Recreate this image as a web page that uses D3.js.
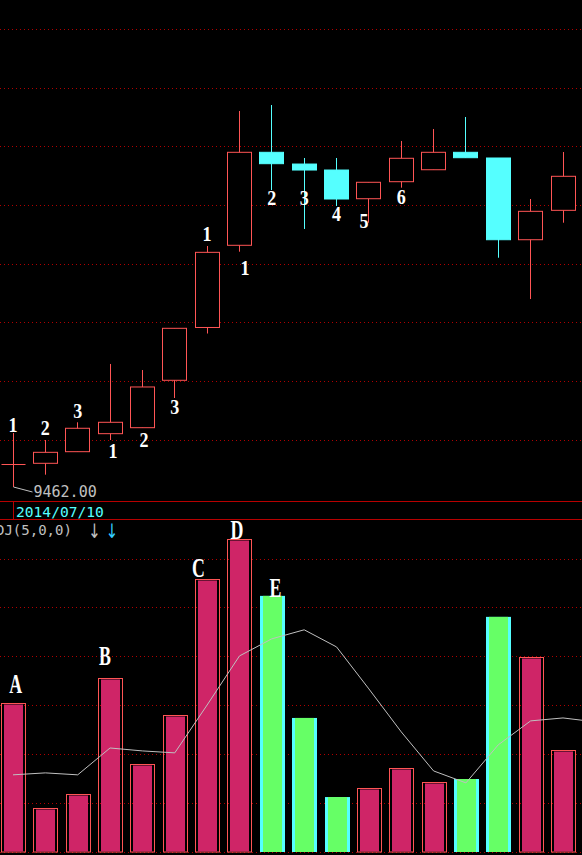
<!DOCTYPE html>
<meta charset="utf-8">
<style>
body { margin: 0; background: #000; }
svg { display: block; background: #000; }
.grid line { stroke: #b00000; stroke-width: 1; stroke-dasharray: 1,3; }
.sep { stroke: #b80000; stroke-width: 1; }
.num { font-family: "Liberation Serif", serif; font-weight: bold; fill: #fff; }
.mono { font-family: "DejaVu Sans Mono", monospace; }
.arrow { font-family: "DejaVu Sans", sans-serif; }
</style>
<svg width="582" height="855"></svg>
<script src="https://d3js.org/d3.v7.min.js"></script>
<script>

// candles
var opens  = [9501.2, 9502.4, 9522.2, 9552.9, 9563.1, 9643.9, 9733.9, 9874.0, 10032.5, 10012.5, 10002.3, 9953.4, 9982.4, 10002.8, 10032.5, 10022.8, 9883.5, 9933.6];
var highs  = [9554.0, 9542.1, 9572.3, 9671.7, 9661.4, 9732.5, 9872.8, 10102.9, 10113.1, 10022.8, 10022.8, 9981.4, 10051.8, 10072.2, 10092.7, 10022.8, 9952.9, 10033.0];
var lows   = [9462.0, 9483.0, 9522.2, 9542.1, 9563.1, 9613.7, 9723.6, 9863.1, 9968.2, 9901.8, 9941.0, 9912.5, 9972.2, 10002.8, 10023.3, 9852.8, 9782.4, 9912.5];
var closes = [9501.2, 9521.1, 9562.1, 9572.3, 9632.5, 9732.5, 9862.0, 10032.5, 10013.1, 10002.3, 9952.9, 9981.4, 10022.3, 10032.5, 10023.3, 9883.5, 9931.9, 9991.6];

// lower indicator: bars and line (last line point lies past the right edge)
var oscBars = [60.7, 18.0, 23.4, 70.9, 35.7, 55.7, 111.5, 127.9, 104.9, 54.9, 22.5, 26.2, 34.0, 28.3, 29.9, 96.3, 79.5, 41.4];
var oscLine = [31.6, 32.4, 31.6, 42.6, 41.4, 40.6, 60.2, 80.3, 87.3, 91.0, 84.0, 66.8, 49.2, 33.2, 28.3, 43.9, 53.7, 54.9, 53.3];

var gridPrices = [9542, 9642, 9742, 9842, 9942, 10042, 10142, 10242];
var oscGrid = [0, 20, 40, 60, 80, 100, 120];

// hand-drawn wave counts: candle index, text, price at label centre
var waveLabels = [
  {i: 0, t: "1", p: 9567.7}, {i: 1, t: "2", p: 9562.6}, {i: 2, t: "3", p: 9593.2},
  {i: 3.09, t: "1", p: 9524.2}, {i: 4.05, t: "2", p: 9543.0}, {i: 5, t: "3", p: 9599.2},
  {i: 6, t: "1", p: 9894.9}, {i: 7.17, t: "1", p: 9836.1}, {i: 8, t: "2", p: 9955.5},
  {i: 9, t: "3", p: 9956.3}, {i: 10, t: "4", p: 9929.0}, {i: 10.85, t: "5", p: 9917.1},
  {i: 12, t: "6", p: 9957.2}
];
var letterLabels = [
  {i: 0.08, t: "A", v: 68.9}, {i: 2.84, t: "B", v: 80.3}, {i: 5.73, t: "C", v: 116.2},
  {i: 6.92, t: "D", v: 132.0}, {i: 8.11, t: "E", v: 108.2}
];
var lowText = "9462.00";
var dateText = "2014/07/10";
var indText = "DJ(5,0,0)";

var RED = "#ff5555", CYAN = "#55ffff", MAG = "#cf2567", GREEN = "#66ff66", GRAY = "#c0c0c0";

var svg = d3.select("svg");
var x = d3.scaleLinear().domain([0, 17]).range([13, 563]);
var y = d3.scaleLinear().domain([9462, 10242]).range([487, 29.4]);
var yo = d3.scaleLinear().domain([0, 120]).range([852, 559]);

var px = function(v) { return Math.floor(v) + 0.5; };
var candles = d3.range(opens.length).map(function(i) {
  return {i: i, o: opens[i], h: highs[i], l: lows[i], c: closes[i], up: closes[i] >= opens[i]};
});

// grids
svg.append("g").attr("class", "grid").selectAll("line")
  .data(gridPrices).enter().append("line")
    .attr("x1", 0).attr("x2", 582)
    .attr("y1", function(d) { return px(y(d)); })
    .attr("y2", function(d) { return px(y(d)); });

svg.append("g").attr("class", "grid").selectAll("line")
  .data(oscGrid).enter().append("line")
    .attr("x1", 0).attr("x2", 582)
    .attr("y1", function(d) { return px(yo(d)); })
    .attr("y2", function(d) { return px(yo(d)); });

// candlesticks
var cg = svg.append("g").selectAll("g").data(candles).enter().append("g");
cg.append("line")
  .attr("x1", function(d) { return px(x(d.i)); })
  .attr("x2", function(d) { return px(x(d.i)); })
  .attr("y1", function(d) { return y(d.h); })
  .attr("y2", function(d) { return y(d.l); })
  .attr("stroke", function(d) { return d.up ? RED : CYAN; });
cg.filter(function(d) { return d.o !== d.c; }).append("rect")
  .attr("x", function(d) { return px(x(d.i)) - 12; })
  .attr("width", 24)
  .attr("y", function(d) { return y(Math.max(d.o, d.c)); })
  .attr("height", function(d) { return y(Math.min(d.o, d.c)) - y(Math.max(d.o, d.c)); })
  .attr("fill", function(d) { return d.up ? "#000" : CYAN; })
  .attr("stroke", function(d) { return d.up ? RED : CYAN; });
cg.filter(function(d) { return d.o === d.c; }).append("line")
  .attr("x1", function(d) { return px(x(d.i)) - 12; })
  .attr("x2", function(d) { return px(x(d.i)) + 12; })
  .attr("y1", function(d) { return px(y(d.o)); })
  .attr("y2", function(d) { return px(y(d.o)); })
  .attr("stroke", RED);

// low marker
var lx = px(x(0)), ly = y(lows[0]);
svg.append("path")
  .attr("d", "M" + lx + "," + ly + "L" + (lx + 19) + "," + (ly + 5))
  .attr("stroke", GRAY).attr("fill", "none");
svg.append("text").attr("class", "mono")
  .attr("x", lx + 20).attr("y", ly + 10)
  .attr("font-size", 15).attr("fill", GRAY)
  .text(lowText);

// wave labels
svg.append("g").selectAll("text").data(waveLabels).enter().append("text")
  .attr("class", "num")
  .attr("font-size", 22)
  .attr("text-anchor", "middle")
  .attr("transform", function(d) { return "translate(" + x(d.i) + "," + (y(d.p) + 7.5) + ") scale(0.82,1)"; })
  .text(function(d) { return d.t; });

// separator band with date
svg.append("line").attr("class", "sep").attr("x1", 0).attr("x2", 582).attr("y1", 501.5).attr("y2", 501.5);
svg.append("line").attr("class", "sep").attr("x1", 0).attr("x2", 582).attr("y1", 519.5).attr("y2", 519.5);
svg.append("line").attr("class", "sep").attr("x1", 13.5).attr("x2", 13.5).attr("y1", 502).attr("y2", 519);
svg.append("text").attr("class", "mono")
  .attr("x", 16).attr("y", 517).attr("font-size", 14.6).attr("fill", CYAN)
  .text(dateText);

svg.append("text").attr("class", "mono")
  .attr("x", -4).attr("y", 535).attr("font-size", 14).attr("fill", GRAY)
  .text(indText);
svg.append("text").attr("class", "arrow")
  .attr("x", 94.5).attr("y", 538).attr("font-size", 20).attr("text-anchor", "middle").attr("fill", GRAY)
  .attr("transform", "translate(94.5,0) scale(0.75,1) translate(-94.5,0)")
  .text("\u2193");
svg.append("text").attr("class", "arrow")
  .attr("x", 112).attr("y", 538).attr("font-size", 20).attr("text-anchor", "middle").attr("fill", "#33ccff")
  .attr("transform", "translate(112,0) scale(0.75,1) translate(-112,0)")
  .text("\u2193");

// indicator bars
var bars = oscBars.map(function(v, i) { return {i: i, v: v, up: candles[i].up}; });
var bg = svg.append("g").selectAll("g").data(bars).enter().append("g");
bg.filter(function(d) { return d.up; }).append("rect")
  .attr("x", function(d) { return Math.round(x(d.i)) - 11.5; })
  .attr("width", 24)
  .attr("y", function(d) { return px(yo(d.v)); })
  .attr("height", function(d) { return yo(0) - px(yo(d.v)); })
  .attr("fill", "none").attr("stroke", RED);
bg.filter(function(d) { return d.up; }).append("rect")
  .attr("x", function(d) { return Math.round(x(d.i)) - 9; })
  .attr("width", 19)
  .attr("y", function(d) { return px(yo(d.v)) + 1; })
  .attr("height", function(d) { return yo(0) - px(yo(d.v)) - 1.5; })
  .attr("fill", MAG);
bg.filter(function(d) { return !d.up; }).append("rect")
  .attr("x", function(d) { return Math.round(x(d.i)) - 12; })
  .attr("width", 25)
  .attr("y", function(d) { return yo(d.v); })
  .attr("height", function(d) { return yo(0) - yo(d.v); })
  .attr("fill", CYAN);
bg.filter(function(d) { return !d.up; }).append("rect")
  .attr("x", function(d) { return Math.round(x(d.i)) - 9; })
  .attr("width", 19)
  .attr("y", function(d) { return yo(d.v); })
  .attr("height", function(d) { return yo(0) - yo(d.v); })
  .attr("fill", GREEN);

// indicator line
svg.append("path")
  .datum(oscLine)
  .attr("fill", "none").attr("stroke", GRAY).attr("stroke-width", 1)
  .attr("d", d3.line().x(function(d, i) { return x(i); }).y(function(d) { return yo(d); }));

// letters
svg.append("g").selectAll("text").data(letterLabels).enter().append("text")
  .attr("class", "num")
  .attr("font-size", 27)
  .attr("text-anchor", "middle")
  .attr("transform", function(d) { return "translate(" + x(d.i) + "," + (yo(d.v) + 9) + ") scale(0.66,1)"; })
  .text(function(d) { return d.t; });

</script>
